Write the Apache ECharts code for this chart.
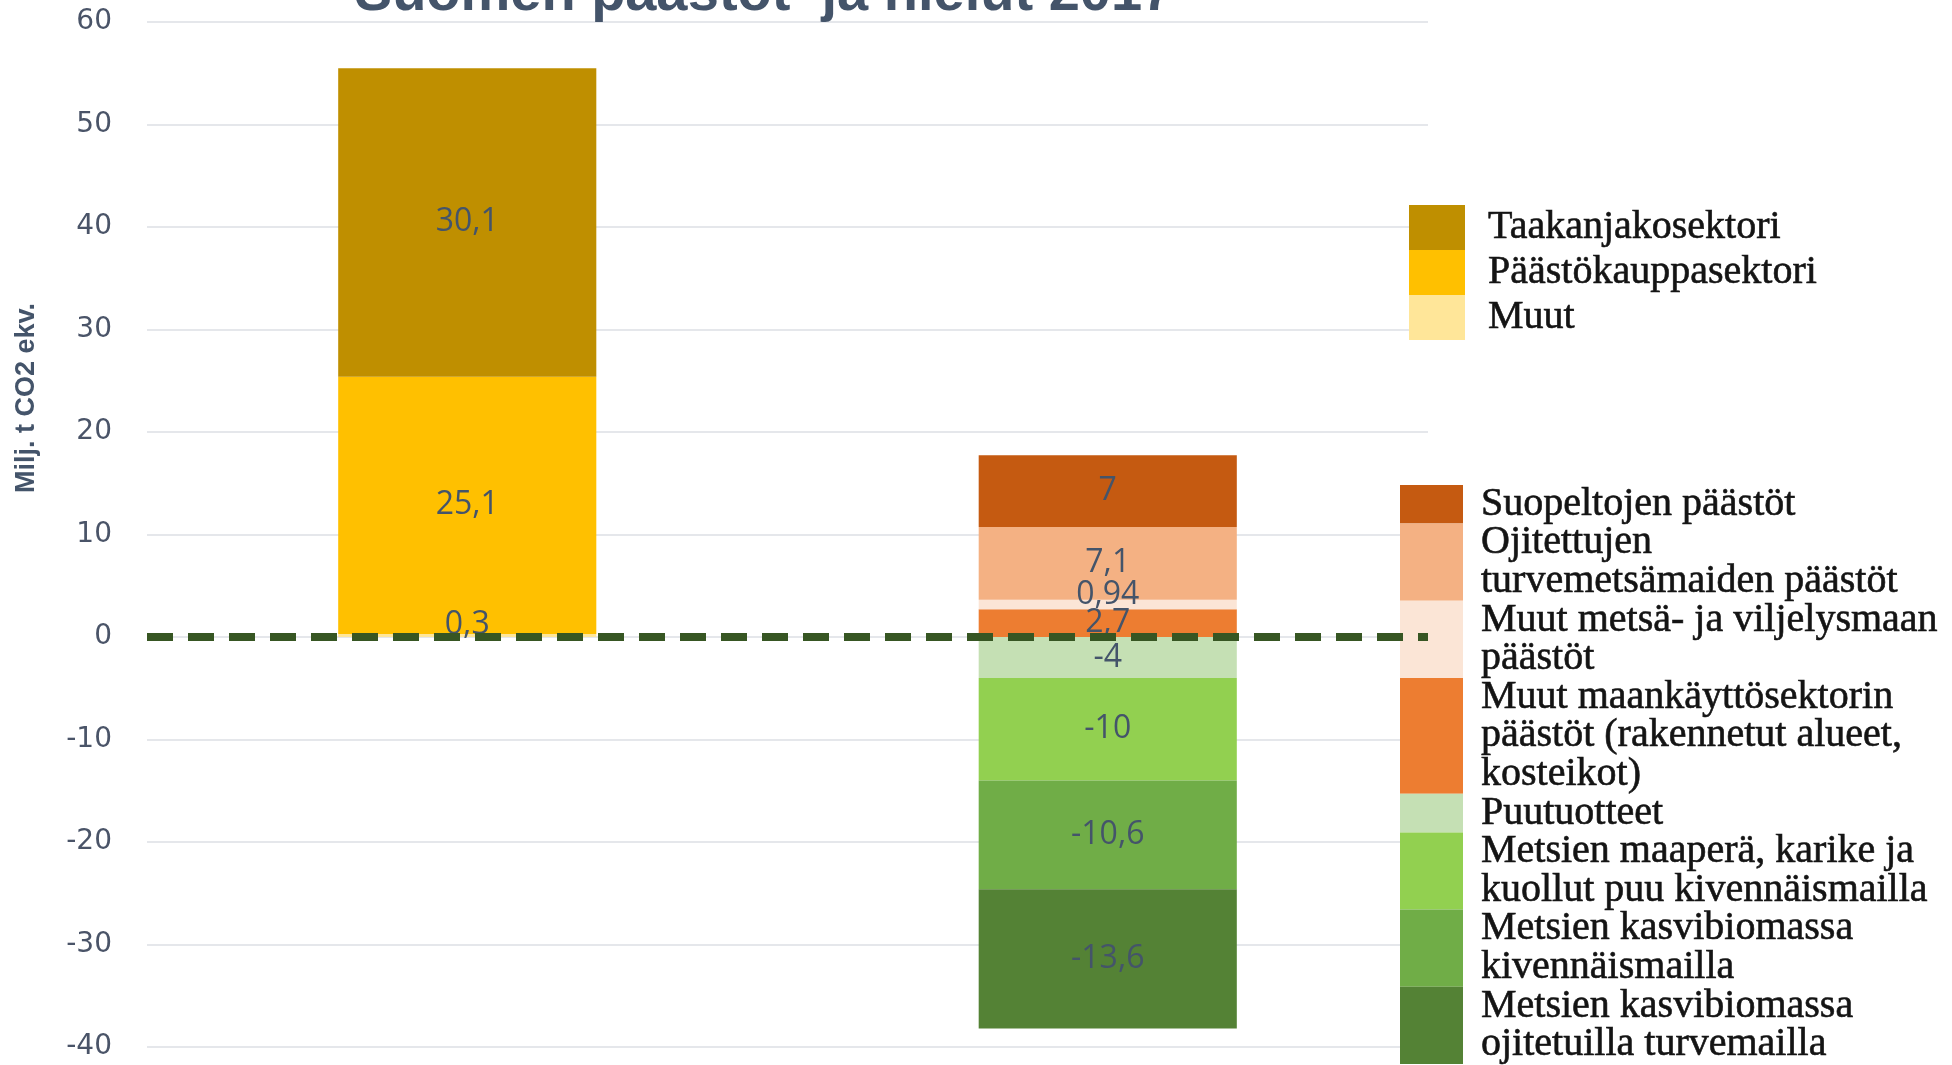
<!DOCTYPE html>
<html>
<head>
<meta charset="utf-8">
<script src="https://cdn.jsdelivr.net/npm/echarts@6/dist/echarts.min.js"></script>
<style>
html, body {margin: 0; padding: 0; background: #fff;}
#chart {width: 1952px; height: 1065px;}
</style>
</head>
<body>
<div id="chart"></div>
<script>
// pylväät: vasen = päästöt, oikea = maankäyttösektori
var categories = ['Päästöt', 'Maankäyttösektori'];
var yMin = -40, yMax = 60, yStep = 10;

// vasen pylväs, alhaalta ylös
var emissionNames = ['Muut', 'Päästökauppasektori', 'Taakanjakosektori'];
var emissionValues = [0.3, 25.1, 30.1];

// oikea pylväs: positiiviset alhaalta ylös, negatiiviset nollasta alas
var landNames = [
    'Muut maankäyttösektorin päästöt (rakennetut alueet, kosteikot)',
    'Muut metsä- ja viljelysmaan päästöt',
    'Ojitettujen turvemetsämaiden päästöt',
    'Suopeltojen päästöt',
    'Puutuotteet',
    'Metsien maaperä, karike ja kuollut puu kivennäismailla',
    'Metsien kasvibiomassa kivennäismailla',
    'Metsien kasvibiomassa ojitetuilla turvemailla'
];
var landValues = [2.7, 0.94, 7.1, 7, -4, -10, -10.6, -13.6];

// selitteet ylhäältä alas
var legend1Names = ['Taakanjakosektori', 'Päästökauppasektori', 'Muut'];
var legend1Text = ['Taakanjakosektori', 'Päästökauppasektori', 'Muut'];
var legend2Names = [landNames[3], landNames[2], landNames[1], landNames[0], landNames[4], landNames[5], landNames[6], landNames[7]];
var legend2Text = [
    'Suopeltojen päästöt',
    'Ojitettujen\nturvemetsämaiden päästöt',
    'Muut metsä- ja viljelysmaan\npäästöt',
    'Muut maankäyttösektorin\npäästöt (rakennetut alueet,\nkosteikot)',
    'Puutuotteet',
    'Metsien maaperä, karike ja\nkuollut puu kivennäismailla',
    'Metsien kasvibiomassa\nkivennäismailla',
    'Metsien kasvibiomassa\nojitetuilla turvemailla'
];

var emissionColors = ['#FFE699', '#FFC000', '#BF8F00'];
var landColors = ['#ED7D31', '#FBE5D6', '#F4B183', '#C55A11', '#C5E0B4', '#92D050', '#70AD47', '#548235'];
var labelOffsets = {'Muut': [0, -11], 'Muut metsä- ja viljelysmaan päästöt': [0, -10]};

function fmt(v) {
    return String(v).replace('.', ',');
}

function makeSeries(name, value, catIndex, color) {
    var data = [null, null];
    data[catIndex] = value;
    return {
        name: name,
        type: 'bar',
        stack: 'total',
        barWidth: '40.3%',
        data: data,
        itemStyle: {color: color},
        label: {
            show: true,
            position: 'inside',
            offset: labelOffsets[name] || [0, 0],
            color: '#44546A',
            fontFamily: 'Open Sans',
            fontSize: 32,
            formatter: function (p) { return fmt(p.value); }
        }
    };
}

var series = [];
emissionNames.forEach(function (n, i) {
    series.push(makeSeries(n, emissionValues[i], 0, emissionColors[i]));
});
landNames.forEach(function (n, i) {
    series.push(makeSeries(n, landValues[i], 1, landColors[i]));
});
series[0].markLine = {
    silent: true,
    symbol: 'none',
    label: {show: false},
    lineStyle: {color: '#375623', width: 8, type: [26, 15]},
    data: [{yAxis: 0}]
};

function buildLegends(names, texts, left, top, lineH, width, pad) {
    var y = top;
    return names.map(function (n, i) {
        var h = texts[i].split('\n').length * lineH;
        var lg = {
            data: [n],
            left: left,
            top: y,
            orient: 'vertical',
            padding: 0,
            icon: 'rect',
            itemWidth: width,
            itemHeight: h,
            selectedMode: false,
            formatter: function () { return texts[i]; },
            textStyle: {
                fontFamily: 'Liberation Serif',
                fontSize: 40,
                lineHeight: lineH,
                color: '#141414',
                textBorderColor: '#141414',
                textBorderWidth: 0.6,
                padding: [0, 0, 0, pad]
            }
        };
        y += h;
        return lg;
    });
}

var legends = buildLegends(legend1Names, legend1Text, 1409, 205, 45, 56, 18)
    .concat(buildLegends(legend2Names, legend2Text, 1400, 484, 38.6, 63, 13));

var chart = echarts.init(document.getElementById('chart'));
chart.setOption({
    animation: false,
    title: {
        text: 'Suomen päästöt  ja nielut 2017',
        left: 764,
        top: -33,
        padding: 0,
        textAlign: 'center',
        textStyle: {
            fontFamily: 'Liberation Sans',
            fontWeight: 'bold',
            fontSize: 56,
            color: '#44546A'
        }
    },
    legend: legends,
    grid: {left: 147, right: 524, top: 22, bottom: 18, containLabel: false},
    xAxis: {
        type: 'category',
        data: categories,
        axisLine: {show: false},
        axisTick: {show: false},
        axisLabel: {show: false}
    },
    yAxis: {
        type: 'value',
        min: yMin,
        max: yMax,
        interval: yStep,
        axisLine: {show: false},
        axisTick: {show: false},
        splitLine: {lineStyle: {color: '#DCDFE5', width: 1.5}},
        axisLabel: {
            margin: 35,
            fontFamily: 'DejaVu Sans',
            fontSize: 28,
            color: '#4A5468'
        }
    },
    graphic: [{
        type: 'text',
        x: 27,
        y: 398,
        rotation: Math.PI / 2,
        style: {
            text: 'Milj. t CO2 ekv.',
            fontFamily: 'Liberation Sans',
            fontWeight: 'bold',
            fontSize: 27,
            fill: '#44546A',
            align: 'center',
            verticalAlign: 'middle'
        }
    }],
    series: series
});
</script>
</body>
</html>
